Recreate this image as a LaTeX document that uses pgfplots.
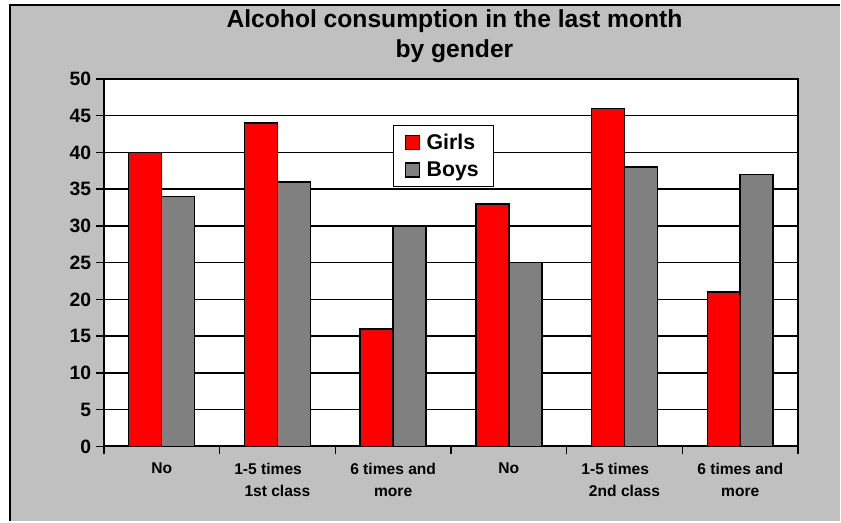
\documentclass[border=0pt]{standalone}
\usepackage{fontspec}
\setmainfont{Liberation Sans}
\usepackage{pgfplots}
\pgfplotsset{compat=1.18}
\definecolor{chartbg}{HTML}{C0C0C0}
\definecolor{girls}{HTML}{FF0000}
\definecolor{boys}{HTML}{808080}

\begin{document}
\begin{tikzpicture}[x=0.75pt,y=0.75pt]
% chart area (pixel units)
\fill[white] (0,0) rectangle (841,522);
\fill[chartbg] (10,0) rectangle (841,517);
\draw[line width=1.5pt] (10,0) -- (10,517) -- (841,517);
\node[font=\bfseries\fontsize{18.5}{22}\selectfont, anchor=base] at (455,494) {Alcohol consumption in the last month};
\node[font=\bfseries\fontsize{18.5}{22}\selectfont, anchor=base] at (455,464) {by gender};

\begin{axis}[
  at={(78pt,56.25pt)}, anchor=south west,
  scale only axis, width=521.25pt, height=276pt,
  ybar=0pt, bar width=24.75pt,
  ymin=0, ymax=50, ytick={0,5,...,50},
  xmin=-0.5, xmax=5.5,
  xtick={-0.5,0.5,1.5,2.5,3.5,4.5,5.5},
  xticklabels={No, {1-5 times\hspace*{14pt}\\1st class}, {6 times and\\more},
               No, {1-5 times\hspace*{14pt}\\2nd class}, {6 times and\\more}},
  x tick label as interval,
  xtick pos=bottom, ytick pos=left,
  tick align=outside, major tick length=6pt,
  tick style={black, line width=1.1pt},
  axis line style={black, line width=1.5pt},
  axis background/.style={fill=white},
  ymajorgrids, major grid style={black, line width=1.1pt},
  /pgf/number format/assume math mode=true,
  y tick label style={font=\bfseries\fontsize{14.5}{17}\selectfont},
  x tick label style={font=\bfseries\fontsize{11.7}{16.3}\selectfont, align=center, yshift=-3pt},
  legend style={at={(0.416,0.875)}, anchor=north west, draw=black, line width=1.1pt,
    fill=white, font=\bfseries\fontsize{16}{19}\selectfont,
    inner xsep=9pt, inner ysep=4pt, row sep=4pt, cells={anchor=west}},
  legend image code/.code={\draw[#1, draw=black, line width=0.8pt] (0pt,-5.25pt) rectangle (10.5pt,5.25pt);
    \path (13pt,0pt);},
]
\addplot[fill=girls, draw=black, line width=1.1pt] coordinates {(0,40) (1,44) (2,16) (3,33) (4,46) (5,21)};
\addplot[fill=boys, draw=black, line width=1.1pt] coordinates {(0,34) (1,36) (2,30) (3,25) (4,38) (5,37)};
\legend{Girls, Boys}
\end{axis}
\end{tikzpicture}
\end{document}
